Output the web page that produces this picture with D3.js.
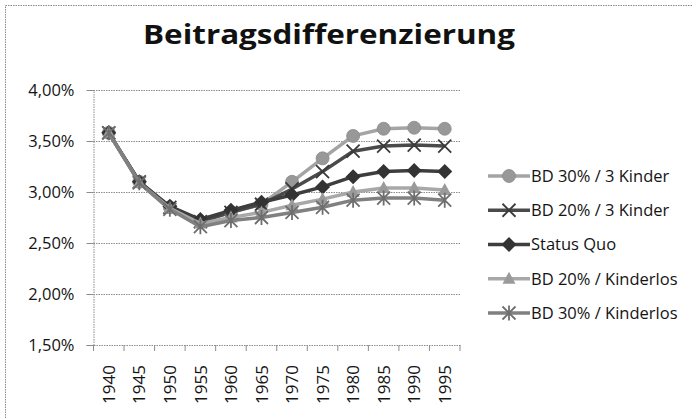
<!DOCTYPE html>
<html>
<head>
<meta charset="utf-8">
<script src="https://cdn.jsdelivr.net/npm/d3@7/dist/d3.min.js"></script>
<style>
  html, body { margin: 0; padding: 0; background: #fff; }
  svg { display: block; }
</style>
</head>
<body>
<svg id="chart" width="692" height="419"></svg>
<script>
// Beitragssatz je Geburtsjahrgang (in %)
const years = ["1940","1945","1950","1955","1960","1965","1970","1975","1980","1985","1990","1995"];
const bd30Kinder3   = [3.58, 3.10, 2.85, 2.71, 2.80, 2.88, 3.10, 3.33, 3.55, 3.62, 3.63, 3.62];
const bd20Kinder3   = [3.58, 3.10, 2.85, 2.71, 2.80, 2.88, 3.03, 3.20, 3.40, 3.45, 3.46, 3.45];
const statusQuo     = [3.58, 3.10, 2.86, 2.73, 2.82, 2.90, 2.97, 3.05, 3.15, 3.20, 3.21, 3.20];
const bd20Kinderlos = [3.58, 3.09, 2.84, 2.69, 2.75, 2.80, 2.87, 2.93, 3.00, 3.04, 3.04, 3.02];
const bd30Kinderlos = [3.58, 3.09, 2.83, 2.66, 2.72, 2.75, 2.80, 2.85, 2.92, 2.94, 2.94, 2.92];
const seriesNames = ["BD 30% / 3 Kinder", "BD 20% / 3 Kinder", "Status Quo", "BD 20% / Kinderlos", "BD 30% / Kinderlos"];
const yTicks = [1.5, 2.0, 2.5, 3.0, 3.5, 4.0];
const title = "Beitragsdifferenzierung";

const series = [
  { name: seriesNames[0], values: bd30Kinder3,   color: "#a4a4a4", mark: "#989898", symbol: "circle" },
  { name: seriesNames[1], values: bd20Kinder3,   color: "#4a4a4a", mark: "#3a3a3a", symbol: "x" },
  { name: seriesNames[2], values: statusQuo,     color: "#3e3e3e", mark: "#333333", symbol: "diamond" },
  { name: seriesNames[3], values: bd20Kinderlos, color: "#a8a8a8", mark: "#9a9a9a", symbol: "triangle" },
  { name: seriesNames[4], values: bd30Kinderlos, color: "#808080", mark: "#6e6e6e", symbol: "star" }
];

const svg = d3.select("#chart");
const font = "'Open Sans', 'DejaVu Sans', sans-serif";
const textColor = "#141414";

// outer chart frame
svg.append("rect")
  .attr("x", 5.5).attr("y", 5.5)
  .attr("width", 690).attr("height", 430)
  .attr("fill", "none").attr("stroke", "#8a8a8a")
  .attr("stroke-width", 1).attr("stroke-dasharray", "1.5,1");

const plot = { left: 93.5, right: 460, top: 90, bottom: 345 };

const x = d3.scaleBand().domain(years).range([plot.left, plot.right]).padding(0);
const y = d3.scaleLinear().domain([1.5, 4.0]).range([plot.bottom, plot.top]);
const cx = d => x(d) + x.bandwidth() / 2;

// title
svg.append("text")
  .attr("x", 329).attr("y", 44)
  .attr("text-anchor", "middle")
  .attr("font-family", font).attr("font-weight", 700)
  .attr("font-size", 26)
  .attr("textLength", 372).attr("lengthAdjust", "spacingAndGlyphs")
  .attr("fill", "#111")
  .text(title);

// horizontal gridlines
svg.append("g").selectAll("line")
  .data(yTicks.slice(1))
  .join("line")
  .attr("x1", plot.left).attr("x2", plot.right)
  .attr("y1", d => Math.round(y(d)) + 0.5).attr("y2", d => Math.round(y(d)) + 0.5)
  .attr("stroke", "#8c8c8c").attr("stroke-width", 1)
  .attr("stroke-dasharray", "1.5,1");

// y axis
const yAxis = svg.append("g")
  .attr("transform", `translate(${plot.left},0)`)
  .call(d3.axisLeft(y).tickValues(yTicks).tickSize(7).tickPadding(12)
    .tickFormat(d => d.toFixed(2).replace(".", ",") + "%"));
yAxis.select(".domain").attr("stroke", "#8c8c8c").attr("stroke-dasharray", "1.5,1");
yAxis.selectAll(".tick line").attr("stroke", "#8c8c8c");
yAxis.selectAll(".tick text")
  .attr("font-family", font).attr("font-size", 16.5).attr("fill", textColor);

// x axis: ticks at category boundaries, labels rotated at category centres
const xAxis = svg.append("g")
  .attr("transform", `translate(0,${plot.bottom})`)
  .call(d3.axisBottom(x).tickSize(0).tickPadding(0));
xAxis.select(".domain").attr("stroke", "#8c8c8c").attr("stroke-dasharray", "1.5,1");
xAxis.selectAll(".tick text")
  .attr("font-family", font).attr("font-size", 17).attr("fill", textColor)
  .attr("text-anchor", "end")
  .attr("transform", "rotate(-90)")
  .attr("x", -20).attr("y", 0).attr("dy", "0.36em");
const bounds = years.map(d => x(d)).concat([plot.right]);
xAxis.append("g").selectAll("line")
  .data(bounds)
  .join("line")
  .attr("x1", d => d).attr("x2", d => d)
  .attr("y1", 0).attr("y2", 6)
  .attr("stroke", "#8c8c8c");

// marker shapes
function drawMarker(g, s, px, py) {
  const sym = s.symbol;
  if (sym === "circle") {
    g.append("circle").attr("cx", px).attr("cy", py).attr("r", 6.5)
      .attr("fill", s.mark).attr("stroke", "#8a8a8a").attr("stroke-width", 0.8);
  } else if (sym === "diamond") {
    g.append("path")
      .attr("d", `M${px},${py - 7.5}L${px + 7.5},${py}L${px},${py + 7.5}L${px - 7.5},${py}Z`)
      .attr("fill", s.mark);
  } else if (sym === "triangle") {
    g.append("path")
      .attr("d", `M${px},${py - 7}L${px + 6.5},${py + 5}L${px - 6.5},${py + 5}Z`)
      .attr("fill", s.mark);
  } else if (sym === "x") {
    const r = 6.5;
    g.append("path")
      .attr("d", `M${px - r},${py - r}L${px + r},${py + r}M${px - r},${py + r}L${px + r},${py - r}`)
      .attr("stroke", s.mark).attr("stroke-width", 1.8).attr("fill", "none");
  } else if (sym === "star") {
    const r = 6.5;
    g.append("path")
      .attr("d", `M${px - r},${py - r}L${px + r},${py + r}M${px - r},${py + r}L${px + r},${py - r}M${px},${py - r - 1}L${px},${py + r + 1}`)
      .attr("stroke", s.mark).attr("stroke-width", 1.8).attr("fill", "none");
  }
}

const line = d3.line().x((d, i) => cx(years[i])).y(d => y(d));

series.forEach(s => {
  const g = svg.append("g");
  g.append("path")
    .datum(s.values)
    .attr("d", line)
    .attr("fill", "none")
    .attr("stroke", s.color)
    .attr("stroke-width", 3.5)
    .attr("stroke-linejoin", "round");
  s.values.forEach((v, i) => drawMarker(g, s, cx(years[i]), y(v)));
});

// legend
const legendY = d3.scalePoint().domain(seriesNames).range([176, 313]);
series.forEach(s => {
  const g = svg.append("g");
  const ly = legendY(s.name);
  g.append("line")
    .attr("x1", 488).attr("x2", 530).attr("y1", ly).attr("y2", ly)
    .attr("stroke", s.color).attr("stroke-width", 3.5);
  drawMarker(g, s, 509, ly);
  g.append("text")
    .attr("x", 531).attr("y", ly).attr("dy", "0.36em")
    .attr("font-family", font).attr("font-size", 16.5).attr("fill", textColor)
    .text(s.name);
});
</script>
</body>
</html>
